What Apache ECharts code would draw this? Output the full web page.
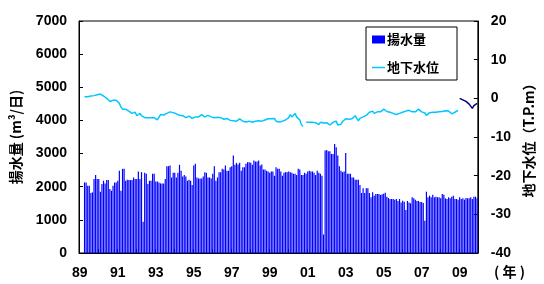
<!DOCTYPE html>
<html>
<head>
<meta charset="utf-8">
<script src="https://cdn.jsdelivr.net/npm/echarts@6/dist/echarts.min.js"></script>
<style>
  html, body { margin: 0; padding: 0; background: #fff; }
  #chart { width: 544px; height: 284px; }
</style>
</head>
<body>
<div id="chart"></div>
<script>
// monthly axis 1989-01 .. 2009-12
const startYear = 1989
const months = []
for (let y = startYear; y <= 2009; y++) {
  for (let m = 1; m <= 12; m++) months.push(y + '-' + String(m).padStart(2, '0'))
}

// 揚水量 (m3/日), monthly from 1989-04
const pumpStart = 3
const pumping = [
  2130, 2130, 2030, 2030, 1810, 1830, 2230, 2350, 2230, 2230,
  1850, 2080, 2180, 2100, 2200, 2200, 1930, 1880, 2030, 2130,
  2130, 2180, 2485, 1880, 2540, 2540, 2180, 2210, 2200, 2200,
  2200, 2280, 2230, 2230, 2460, 2230, 2440, 940, 2420, 2390,
  2080, 2180, 2180, 2390, 2390, 2160, 2160, 2130, 2100, 2100,
  2100, 2230, 2620, 2620, 2640, 2280, 2420, 2420, 2280, 2420,
  2660, 2480, 2310, 2350, 2310, 2180, 2210, 2180, 2050, 2640,
  2690, 2280, 2250, 2250, 2250, 2310, 2440, 2420, 2280, 2280,
  2250, 2390, 2620, 2180, 2280, 2440, 2440, 2540, 2520, 2640,
  2480, 2480, 2590, 2620, 2940, 2660, 2720, 2670, 2720, 2480,
  2590, 2590, 2690, 2740, 2740, 2720, 2660, 2790, 2760, 2760,
  2790, 2640, 2670, 2520, 2520, 2480, 2460, 2420, 2460, 2460,
  2330, 2590, 2540, 2540, 2460, 2330, 2420, 2440, 2440, 2460,
  2440, 2420, 2390, 2390, 2350, 2540, 2520, 2350, 2350, 2420,
  2390, 2460, 2480, 2460, 2460, 2420, 2350, 2480, 2420, 2390,
  2330, 560, 3090, 3110, 3070, 3070, 2990, 2990, 3290, 3190,
  2940, 2620, 2480, 2440, 2460, 3020, 2390, 2390, 2390, 2280,
  2280, 2210, 2210, 2210, 2050, 1810, 1950, 1810, 1950, 1950,
  1810, 1680, 1830, 1730, 1780, 1780, 1780, 1750, 1770, 1790,
  1820, 1700, 1660, 1630, 1630, 1630, 1610, 1630, 1570, 1630,
  1520, 1580, 1550, 1300, 1570, 1520, 1500, 1680, 1650, 1610,
  1570, 1570, 1540, 1540, 1510, 970, 1850, 1680, 1730, 1680,
  1760, 1680, 1700, 1680, 1680, 1650, 1780, 1760, 1650, 1630,
  1680, 1650, 1700, 1730, 1630, 1630, 1610, 1680, 1630, 1650,
  1610, 1660, 1650, 1650, 1680, 1630, 1700, 1700, 1650
]

// 地下水位 (T.P.m), monthly from 1989-04
const levelStart = 3
const level = [
  0.4, 0.4, 0.4, 0.4, 0.6, 0.6, 0.7, 0.9, 0.9, 1.0,
  1.1, 0.8, 0.6, 0.1, 0.0, -0.5, -0.8, -1.1, -0.5, -0.5,
  -0.5, -0.8, -1.3, -2.2, -2.8, -3.1, -2.8, -2.8, -3.3, -3.6,
  -3.9, -4.3, -3.6, -4.5, -4.2, -3.9, -4.5, -4.8, -5.0, -5.1,
  -5.0, -5.1, -5.0, -4.9, -5.0, -5.4, -5.6, -5.3, -4.2, -3.9,
  -4.3, -4.5, -3.9, -3.7, -3.5, -3.9, -3.7, -3.6, -4.0, -4.2,
  -4.4, -4.8, -4.5, -4.5, -5.0, -4.8, -4.6, -4.5, -5.2, -5.1,
  -4.8, -4.5, -4.8, -4.6, -4.2, -3.9, -4.8, -4.4, -4.4, -4.3,
  -4.8, -5.0, -5.0, -4.8, -4.9, -5.2, -5.0, -5.2, -5.4, -5.2,
  -5.2, -5.6, -5.7, -5.9, -5.8, -5.5, -5.9, -5.4, -5.3, -5.4,
  -5.9, -6.1, -6.1, -6.2, -5.9, -6.0, -6.2, -6.2, -5.9, -6.1,
  -5.8, -5.6, -5.9, -5.6, -5.6, -5.4, -5.3, -5.2, -5.3, -5.4,
  -5.2, -5.9, -6.2, -6.1, -6.0, -5.9, -5.9, -5.6, -5.4, -5.0,
  -4.2, -4.8, -5.2, -3.9, -4.8, -5.2, -5.6, -6.8, -7.3, null,
  -6.2, -6.2, -6.2, -6.3, -6.2, -6.2, -6.3, -6.4, -6.8, -6.2,
  -6.5, -6.4, -6.2, -6.3, -6.5, -6.9, -6.7, -6.2, -6.2, -5.9,
  -6.9, -7.4, -6.7, -6.0, -5.6, -5.3, -5.4, -5.4, -5.4, -5.3,
  -5.2, -4.5, -5.2, -5.8, -5.2, -5.1, -4.8, -4.5, -4.4, -4.2,
  -3.6, -3.4, -3.3, -3.9, -3.6, -3.5, -3.6, -3.5, -3.3, -2.8,
  -3.3, -3.4, -3.5, -3.6, -3.9, -3.9, -4.2, -4.2, -3.9, -3.9,
  -3.6, -3.6, -3.3, -3.3, -3.1, -3.1, -3.4, -3.5, -3.5, -3.5,
  -3.4, -2.8, -3.3, -3.5, -3.6, -3.8, -4.4, -4.5, -3.7, -3.6,
  -3.6, -3.6, -3.6, -3.6, -3.5, -3.5, -3.4, -3.3, -3.2, -3.1,
  -3.3, -3.6, -4.0, -4.3, -3.6, -3.4, -3.1
]

// 地下水位 (new record), monthly from 2009-01
const level2Start = 240
const level2 = [0.0, 0.0, -0.4, -0.6, -0.8, -1.2, -1.5, -2.0, -2.6, -1.9, -1.6, -1.3]

const pad = (arr, start) => {
  const out = new Array(months.length).fill(null)
  arr.forEach((v, i) => { out[start + i] = v })
  return out
}

const labelFont = { fontFamily: 'Liberation Sans', fontWeight: 'bold', fontSize: 14, color: '#000' }
const cjkFont = { fontFamily: 'Noto Sans CJK JP', fontWeight: 'bold', fontSize: 14, color: '#000' }
const axisLine = { show: true, lineStyle: { color: '#000', width: 1 } }
const tick = { show: true, inside: true, length: 4, lineStyle: { color: '#000' } }
// thin horizontal bar centred in the icon box (tiny corner dots keep the height)
const lineIcon = 'path://M0,0h0.01v0.01h-0.01zM0,7.99h0.01v0.01h-0.01zM0,3.3h14v1.4h-14z'

const chart = echarts.init(document.getElementById('chart'), null, { renderer: 'canvas' })

chart.setOption({
  animation: false,
  backgroundColor: '#fff',
  grid: { left: 79, right: 60, top: 21, bottom: 31, show: true, borderColor: '#000', borderWidth: 1 },
  legend: {
    data: [{ name: '揚水量', icon: 'rect' }, { name: '地下水位', icon: lineIcon }],
    orient: 'vertical',
    left: 366,
    top: 27,
    padding: [6, 18, 6, 6],
    itemGap: 15,
    itemWidth: 13,
    itemHeight: 8,
    backgroundColor: '#fff',
    borderColor: '#000',
    borderWidth: 1,
    textStyle: { ...cjkFont, fontSize: 13, padding: [0, 0, 0, -3] }
  },
  xAxis: {
    type: 'category',
    data: months,
    boundaryGap: true,
    axisLine: axisLine,
    axisTick: { ...tick, interval: (i) => i % 12 === 0 },
    axisLabel: { ...labelFont, margin: 13, interval: (i) => i % 24 === 0, formatter: (v) => v.slice(2, 4) }
  },
  yAxis: [
    {
      type: 'value', min: 0, max: 7000, interval: 1000,
      name: '揚水量 (m³/日)', nameLocation: 'middle', nameGap: 56, nameRotate: 90,
      nameTextStyle: cjkFont,
      axisLine: axisLine, axisTick: tick, splitLine: { show: false },
      axisLabel: { ...labelFont, margin: 12, formatter: (v) => String(v) }
    },
    {
      type: 'value', min: -40, max: 20, interval: 10, position: 'right',
      name: '地下水位（T.P.m）', nameLocation: 'middle', nameGap: 35, nameRotate: 90,
      nameTextStyle: cjkFont,
      axisLine: axisLine, axisTick: tick, splitLine: { show: false },
      axisLabel: { ...labelFont, margin: 13, formatter: (v) => String(v) }
    }
  ],
  graphic: [
    { type: 'text', left: 494, top: 265, style: { text: '( 年 )', font: 'bold 14px "Noto Sans CJK JP"', fill: '#000' } }
  ],
  series: [
    {
      name: '揚水量', type: 'bar', yAxisIndex: 0,
      data: pad(pumping, pumpStart),
      barCategoryGap: '25%',
      itemStyle: { color: '#0000ff' }
    },
    {
      name: '地下水位', type: 'line', yAxisIndex: 1,
      data: pad(level, levelStart),
      symbol: 'none', connectNulls: false,
      lineStyle: { color: '#00c8ff', width: 1.5 },
      itemStyle: { color: '#00c8ff' }
    },
    {
      name: '地下水位2', type: 'line', yAxisIndex: 1,
      data: pad(level2, level2Start),
      symbol: 'none', connectNulls: false,
      lineStyle: { color: '#000080', width: 1.5 },
      itemStyle: { color: '#000080' }
    }
  ]
})
</script>
</body>
</html>
